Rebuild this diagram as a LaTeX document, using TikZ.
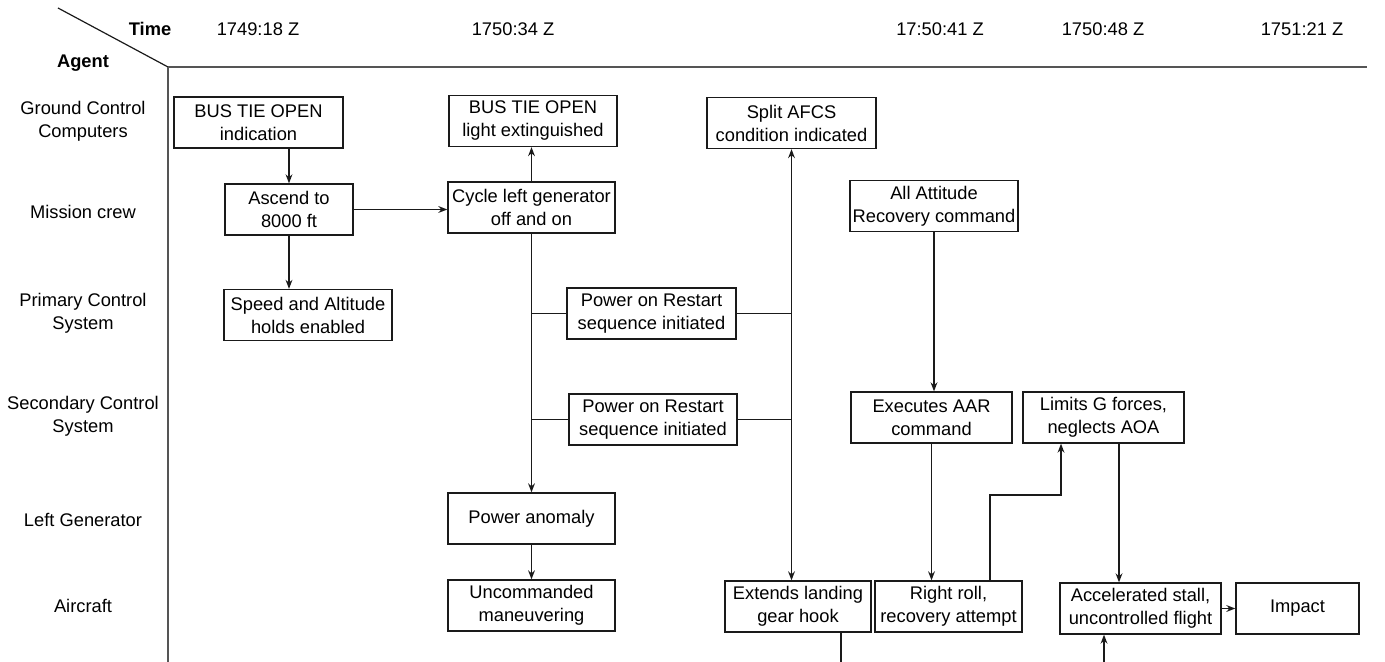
\documentclass[tikz,border=0pt]{standalone}
\usepackage{fontspec}
\setmainfont{Liberation Sans}
\usetikzlibrary{arrows.meta,calc}
\definecolor{Ink}{HTML}{1A1A1A}
\definecolor{Rule}{HTML}{555555}

\tikzset{
  evbox/.style={draw=Ink,line width=0.65pt,align=center,inner sep=1pt,minimum height=25.5pt,font=\fontsize{9.15}{11.5}\selectfont},
  agent/.style={align=center,font=\fontsize{9.15}{11.5}\selectfont},
  flow/.style={draw=Ink,line width=0.7pt,-{Stealth[length=4.5pt,width=3.4pt]}},
  link/.style={draw=Ink,line width=0.7pt},
}

\begin{document}
\begin{tikzpicture}[x=0.5pt,y=-0.5pt]
        \useasboundingbox (0,0) rectangle (1385,662);
        % header and axes
        \draw[Ink,line width=0.6pt] (58,8) -- (168,67);
        \draw[Rule,line width=0.8pt] (168,67) -- (168,662);
        \draw[Rule,line width=0.8pt] (168,67) -- (1367,67);
        \node[agent,font=\fontsize{9.15}{11.5}\selectfont\bfseries] (timehd) at (150,29) {Time};
        \node[agent,font=\fontsize{9.15}{11.5}\selectfont\bfseries] (agenthd) at (83,63) {Agent};
        \foreach \x/\t [count=\i] in {258/1749:18 Z,513/1750:34 Z,940/17:50:41 Z,1103/1750:48 Z,1302/1751:21 Z}
          \node[agent] (t\i) at (\x,29) {\t};
        \foreach \y/\t [count=\i] in {121/{Ground Control\\Computers},212/Mission crew,313/{Primary Control\\System},416/{Secondary Control\\System},520/Left Generator,606/Aircraft}
          \node[agent] (row\i) at (83,\y) {\t};

        % events
        \node[evbox,minimum width=84.5pt] (busopen) at (258.5,122.5) {BUS TIE OPEN\\indication};
        \node[evbox,minimum width=64pt] (ascend) at (289,209.5) {Ascend to\\8000 ft};
        \node[evbox,minimum width=84pt] (holds) at (308,315) {Speed and Altitude\\holds enabled};
        \node[evbox,minimum width=84pt] (busout) at (533,121) {BUS TIE OPEN\\light extinguished};
        \node[evbox,minimum width=83.5pt] (cycle) at (531.5,207.5) {Cycle left generator\\off and on};
        \node[evbox,minimum width=84.5pt] (prirst) at (651.5,313.5) {Power on Restart\\sequence initiated};
        \node[evbox,minimum width=84pt] (secrst) at (653,419.5) {Power on Restart\\sequence initiated};
        \node[evbox,minimum width=83.5pt] (anomaly) at (531.5,518.5) {Power anomaly};
        \node[evbox,minimum width=83.5pt] (uncmd) at (531.5,605.5) {Uncommanded\\maneuvering};
        \node[evbox,minimum width=84.5pt] (split) at (791.5,123) {Split AFCS\\condition indicated};
        \node[evbox,minimum width=73pt] (hook) at (798,606.5) {Extends landing\\gear hook};
        \node[evbox,minimum width=84pt] (aarcmd) at (934,206) {All Attitude\\Recovery command};
        \node[evbox,minimum width=80.5pt] (aarexec) at (931.5,417.5) {Executes AAR\\command};
        \node[evbox,minimum width=80.5pt] (glimit) at (1103.5,417.5) {Limits G forces,\\neglects AOA};
        \node[evbox,minimum width=73.5pt] (roll) at (948.5,606.5) {Right roll,\\recovery attempt};
        \node[evbox,minimum width=80.5pt] (stall) at (1140.5,608.5) {Accelerated stall,\\uncontrolled flight};
        \node[evbox,minimum width=61.5pt] (impact) at (1297.5,608.5) {Impact};

        % connectors
        \coordinate (bendlo) at (990,495);
        \coordinate (bendhi) at (1061,495);
        \coordinate (gdrop) at ($(glimit.south)+(15.5,0)$);
        \coordinate (offhook) at (841,662);
        \coordinate (offstall) at (1104,662);
        \draw[flow] (busopen.south -| ascend.north) -- (ascend.north);
        \draw[flow] (ascend.south) -- (ascend.south |- holds.north);
        \draw[flow] (ascend.east) -- (ascend.east -| cycle.west);
        \draw[flow] (cycle.north) -- (cycle.north |- busout.south);
        \draw[flow] (cycle.south) -- (cycle.south |- anomaly.north);
        \draw[flow] (anomaly.south) -- (uncmd.north);
        \draw[link] (prirst.west) -- (prirst.west -| cycle.south);
        \draw[link] (secrst.west) -- (secrst.west -| cycle.south);
        \draw[flow,{Stealth[length=4.5pt,width=3.4pt]}-{Stealth[length=4.5pt,width=3.4pt]}] (split.south) -- (split.south |- hook.north);
        \draw[link] (prirst.east) -- (prirst.east -| split.south);
        \draw[link] (secrst.east) -- (secrst.east -| split.south);
        \draw[link] (hook.south -| offhook) -- (offhook);
        \draw[flow] (aarcmd.south) -- (aarcmd.south |- aarexec.north);
        \draw[flow] (aarexec.south) -- (aarexec.south |- roll.north);
        \draw[flow] (roll.north -| bendlo) -- (bendlo) -- (bendhi) -- (bendhi |- glimit.south);
        \draw[flow] (gdrop) -- (gdrop |- stall.north);
        \draw[flow] (offstall) -- (offstall |- stall.south);
        \draw[flow] (stall.east) -- (impact.west);
      \end{tikzpicture}
\end{document}
